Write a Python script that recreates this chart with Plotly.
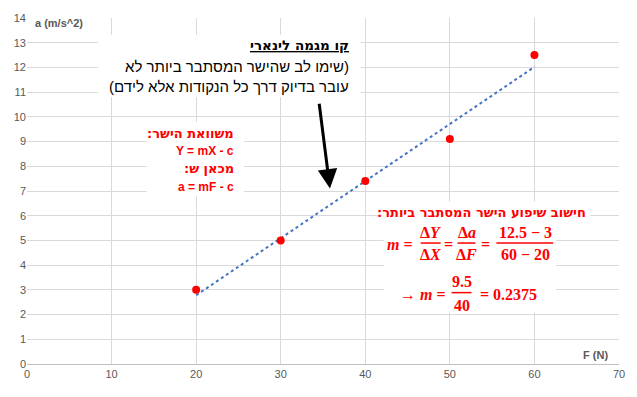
import numpy as np
import plotly.graph_objects as go

# ---- data ----
force_N = [20, 30, 40, 50, 60]
accel = [3, 5, 7.4, 9.1, 12.5]
x_ticks = [0, 10, 20, 30, 40, 50, 60, 70]
y_ticks = list(range(0, 15))

W, H = 637, 397
ML, MR, MT, MB = 27, 16, 15, 33
XR = (0, 70)
YR = (0, 14)


def px2x(px):
    return XR[0] + (px - ML) / (W - ML - MR) * (XR[1] - XR[0])


def px2y(py):
    return YR[0] + (H - MB - py) / (H - MT - MB) * (YR[1] - YR[0])


def rtl(s):
    return "\u202B" + s + "\u202C"


RED = "#ff0000"
GRAY = "#595959"
SANS = "Liberation Sans"
BOLDHEB = "DejaVu Sans"
SERIF = "Liberation Serif"

# linear trend line from the data
slope, intercept = np.polyfit(force_N, accel, 1)
tx = [min(force_N), max(force_N)]
ty = [slope * v + intercept for v in tx]

fig = go.Figure()
fig.add_trace(go.Scatter(x=tx, y=ty, mode="lines",
                         line=dict(color="#4472c4", width=2, dash="dot"),
                         hoverinfo="skip", showlegend=False))
fig.add_trace(go.Scatter(x=force_N, y=accel, mode="markers",
                         marker=dict(color=RED, size=8),
                         showlegend=False))

shapes = []
annotations = []


def white_box(x0, y0, x1, y1):
    shapes.append(dict(type="rect", xref="x", yref="y", layer="between",
                       x0=px2x(x0), x1=px2x(x1), y0=px2y(y0), y1=px2y(y1),
                       fillcolor="white", line=dict(width=0)))


def text(px, py, s, size, color, family=SANS, xanchor="center"):
    annotations.append(dict(x=px2x(px), y=px2y(py), xref="x", yref="y",
                            text=s, showarrow=False, xanchor=xanchor,
                            yanchor="middle",
                            font=dict(size=size, color=color, family=family)))


def frac_line(x0, x1, py):
    shapes.append(dict(type="line", xref="x", yref="y", layer="above",
                       x0=px2x(x0), x1=px2x(x1), y0=px2y(py), y1=px2y(py),
                       line=dict(color=RED, width=1.5)))


# white boxes behind text
white_box(98, 32, 362, 95)
white_box(147, 120, 245, 195)
white_box(383, 200, 592, 224)
white_box(385, 224, 558, 312)

# box 1
text(352, 42, rtl("<b><u>קו מגמה לינארי</u></b>"), 13.5, "#000000", BOLDHEB, xanchor="right")
text(352, 64, rtl("(שימו לב שהישר המסתבר ביותר לא"), 15, "#000000", xanchor="right")
text(352, 84, rtl("עובר בדיוק דרך כל הנקודות אלא לידם)"), 15, "#000000", xanchor="right")

# box 2
text(237, 131, rtl("<b>משוואת הישר:</b>"), 13, RED, BOLDHEB, xanchor="right")
text(237, 149, "<b>Y = mX - c</b>", 12, RED, xanchor="right")
text(237, 167, rtl("<b>מכאן ש:</b>"), 13, RED, BOLDHEB, xanchor="right")
text(237, 185, "<b>a = mF - c</b>", 12, RED, xanchor="right")

# box 3: slope calculation
dy = accel[-1] - accel[0]
dx = force_N[-1] - force_N[0]
m_val = dy / dx
text(590, 211, rtl("<b>חישוב שיפוע הישר המסתבר ביותר:</b>"), 13, RED, BOLDHEB, xanchor="right")

text(401, 243, "<b><i>m</i> =</b>", 16, RED, SERIF)
text(432, 231, "<b>Δ<i>Y</i></b>", 16, RED, SERIF)
frac_line(422, 442, 242)
text(432, 254, "<b>Δ<i>X</i></b>", 16, RED, SERIF)
text(450, 243, "<b>=</b>", 16, RED, SERIF)
text(468, 231, "<b>Δ<i>a</i></b>", 16, RED, SERIF)
frac_line(459, 477, 242)
text(468, 254, "<b>Δ<i>F</i></b>", 16, RED, SERIF)
text(487, 243, "<b>=</b>", 16, RED, SERIF)
text(527, 231, f"<b>{accel[-1]:g} − {accel[0]:g}</b>", 16, RED, SERIF)
frac_line(498, 555, 242)
text(527, 254, f"<b>{force_N[-1]:g} − {force_N[0]:g}</b>", 16, RED, SERIF)

text(424, 294, "<b>→ <i>m</i> =</b>", 16, RED, SERIF)
text(463, 281, f"<b>{dy:g}</b>", 16, RED, SERIF)
frac_line(453, 473, 292)
text(463, 305, f"<b>{dx:g}</b>", 16, RED, SERIF)
text(510, 294, f"<b>= {m_val:g}</b>", 16, RED, SERIF)

# axis titles
text(33, 20, "<b>a (m/s^2)</b>", 11, GRAY, xanchor="left")
text(612, 355, "<b>F (N)</b>", 11, GRAY, xanchor="right")

# arrow
annotations.append(dict(x=px2x(331), y=px2y(187), ax=px2x(320), ay=px2y(100),
                        xref="x", yref="y", axref="x", ayref="y",
                        showarrow=True, arrowhead=2, arrowsize=1.3,
                        arrowwidth=3, arrowcolor="#000000", text=""))

fig.update_layout(
    width=W, height=H,
    margin=dict(l=ML, r=MR, t=MT, b=MB, pad=0),
    paper_bgcolor="white", plot_bgcolor="white",
    showlegend=False,
    shapes=shapes, annotations=annotations,
    xaxis=dict(range=list(XR), tickvals=x_ticks, showgrid=True,
               gridcolor="#d9d9d9", gridwidth=1, zeroline=False,
               showline=True, linecolor="#bfbfbf", linewidth=1,
               ticks="", tickfont=dict(size=11, color=GRAY, family=SANS)),
    yaxis=dict(range=list(YR), tickvals=y_ticks, showgrid=True,
               gridcolor="#d9d9d9", gridwidth=1, zeroline=False,
               showline=False, ticks="",
               tickfont=dict(size=11, color=GRAY, family=SANS)),
)

fig.write_html("out.html")
